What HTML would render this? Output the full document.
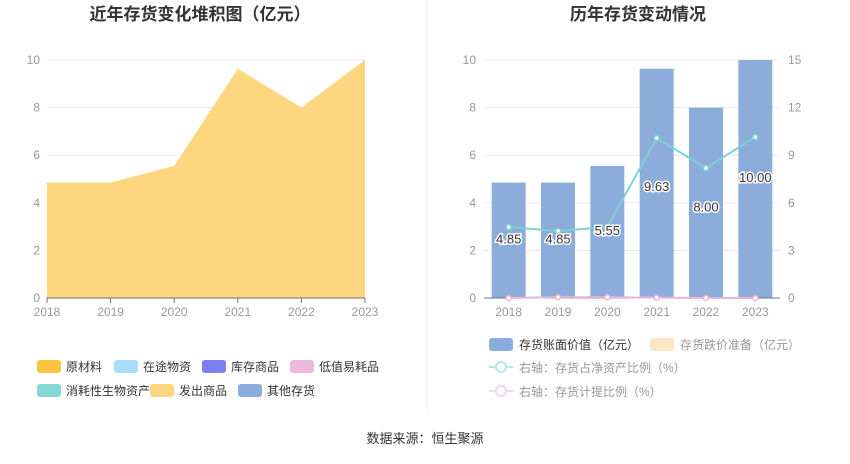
<!DOCTYPE html>
<html><head><meta charset="utf-8"><style>
body{margin:0;background:#fff;font-family:"Liberation Sans","Noto Sans CJK SC",sans-serif;}
svg text{font-family:"Liberation Sans","Noto Sans CJK SC",sans-serif;}
</style></head><body>
<svg id="c" width="850" height="459">
<text x="200" y="20" text-anchor="middle" font-size="17" font-weight="bold" fill="#333">近年存货变化堆积图（亿元）</text>
<text x="638" y="20" text-anchor="middle" font-size="17" font-weight="bold" fill="#333">历年存货变动情况</text>
<line x1="427" y1="0" x2="427" y2="410" stroke="#eee"/>
<g id="left"></g><g id="right"></g><g id="legend"></g>
<text x="425" y="443" text-anchor="middle" font-size="13" fill="#333">数据来源：恒生聚源</text>
</svg>
<script>
const years=["2018","2019","2020","2021","2022","2023"];
const inventory=[4.85,4.85,5.55,9.63,8.00,10.00];
const inventoryLabels=["4.85","4.85","5.55","9.63","8.00","10.00"];
const assetRatio=[4.47,4.22,4.47,10.08,8.19,10.15];
const provisionRatio=[0,0.05,0.05,0.02,0,0];
const leftTicks=[0,2,4,6,8,10];
const rightTicks=[0,3,6,9,12,15];
const NS="http://www.w3.org/2000/svg";
function mk(p,t,a,txt){const e=document.createElementNS(NS,t);for(const k in a)e.setAttribute(k,a[k]);if(txt!==undefined)e.textContent=txt;p.appendChild(e);return e;}
const plotTop=60,plotBot=298;
const yL=v=>plotBot-(v/10)*(plotBot-plotTop);
const yR=v=>plotBot-(v/15)*(plotBot-plotTop);
// left chart
const L=document.getElementById('left');
const lx0=47,lx1=365;
const xL=i=>lx0+i*(lx1-lx0)/(years.length-1);
leftTicks.forEach(t=>{
 if(t>0){const g=mk(L,'line',{x1:lx0,x2:lx1,y1:yL(t),y2:yL(t),stroke:'#e6e9f0'});
 }
 const tx=mk(L,'text',{x:40,y:yL(t)+4,'text-anchor':'end','font-size':12,fill:'#999'},t);
 
});
let d='M'+xL(0)+','+yL(0);
inventory.forEach((v,i)=>d+=' L'+xL(i)+','+yL(v));
d+=' L'+xL(years.length-1)+','+yL(0)+' Z';
const area=mk(L,'path',{d:d,fill:'#fdd67f'});

const baseLine=mk(L,'line',{x1:lx0,x2:lx1,y1:plotBot,y2:plotBot,stroke:'#6e7079'});

years.forEach((y,i)=>{
 const tk=mk(L,'line',{x1:xL(i),x2:xL(i),y1:plotBot,y2:plotBot+5,stroke:'#6e7079'});
 
 const t=mk(L,'text',{x:xL(i),y:plotBot+18,'text-anchor':'middle','font-size':12,fill:'#999'},y);
 
});
// right chart
const R=document.getElementById('right');
const rx0=484,rx1=780,bw=(rx1-rx0)/years.length;
const xR=i=>rx0+bw*(i+0.5);
leftTicks.forEach((t,k)=>{
 if(t>0){const g=mk(R,'line',{x1:rx0,x2:rx1,y1:yL(t),y2:yL(t),stroke:'#e6e9f0'});
 }
 const a=mk(R,'text',{x:476,y:yL(t)+4,'text-anchor':'end','font-size':12,fill:'#999'},t);
 
 const b=mk(R,'text',{x:788,y:yR(rightTicks[k])+4,'text-anchor':'start','font-size':12,fill:'#999'},rightTicks[k]);
 
});
inventory.forEach((v,i)=>{
 const r=mk(R,'rect',{x:xR(i)-17,y:yL(v),width:34,height:plotBot-yL(v),fill:'#8caddb'});
 
});
const b2=mk(R,'line',{x1:rx0,x2:rx1,y1:plotBot,y2:plotBot,stroke:'#6e7079'});

function line(vals,col,name){
 const p=mk(R,'polyline',{points:vals.map((v,i)=>xR(i)+','+yR(v)).join(' '),fill:'none',stroke:col,'stroke-width':2});
 
 vals.forEach((v,i)=>{const c=mk(R,'circle',{cx:xR(i),cy:yR(v),r:2.5,fill:'#fff',stroke:col,'stroke-width':1.5});
 });
}
line(provisionRatio,'#e8b4d8','provision-ratio-line');
line(assetRatio,'#7dd3d3','asset-ratio-line');
inventory.forEach((v,i)=>{
 const ly=v>9?yL(v)+122:(v>7?yL(v)+104:yL(v)+(v>5?69:61));
 const t=mk(R,'text',{x:xR(i),y:ly,'text-anchor':'middle','font-size':13,fill:'#333',stroke:'#fff','stroke-width':3,'paint-order':'stroke'},inventoryLabels[i]);
 
});
years.forEach((y,i)=>{
 const t=mk(R,'text',{x:xR(i),y:plotBot+18,'text-anchor':'middle','font-size':12,fill:'#999'},y);
 
});
// legends
const G=document.getElementById('legend');
const leftLeg=[["原材料","#fdc43d",37,366],["在途物资","#a8defa",114,366],["库存商品","#7c7ff2",202,366],["低值易耗品","#ecbade",290,366],["消耗性生物资产","#86d8d6",37,390],["发出商品","#fdd67f",150,390],["其他存货","#8caddb",238,390]];
leftLeg.forEach(l=>{
 const r=mk(G,'rect',{x:l[2],y:l[3]-6,width:24,height:13,rx:3,fill:l[1]});
 
 const t=mk(G,'text',{x:l[2]+29,y:l[3]+5,'font-size':12,fill:'#333'},l[0]);
 
});
[["存货账面价值（亿元）","#8caddb",489,344],["存货跌价准备（亿元）","#fde6c4",650,344]].forEach(l=>{
 const r=mk(G,'rect',{x:l[2],y:l[3]-6,width:24,height:13,rx:3,fill:l[1]});
 
 const t=mk(G,'text',{x:l[2]+30,y:l[3]+5,'font-size':12,fill:l[1]=='#fde6c4'?'#999':'#333'},l[0]);
 
});
[["右轴：存货占净资产比例（%）","#b5e8e8",367],["右轴：存货计提比例（%）","#f2d6ea",391]].forEach(l=>{
 const a=mk(G,'line',{x1:489,x2:513,y1:l[2],y2:l[2],stroke:l[1],'stroke-width':2});
 
 const c=mk(G,'circle',{cx:501,cy:l[2],r:5,fill:'#fff',stroke:l[1],'stroke-width':2});
 
 const t=mk(G,'text',{x:519,y:l[2]+5,'font-size':12,fill:'#999'},l[0]);
 
});
</script>
</body></html>
